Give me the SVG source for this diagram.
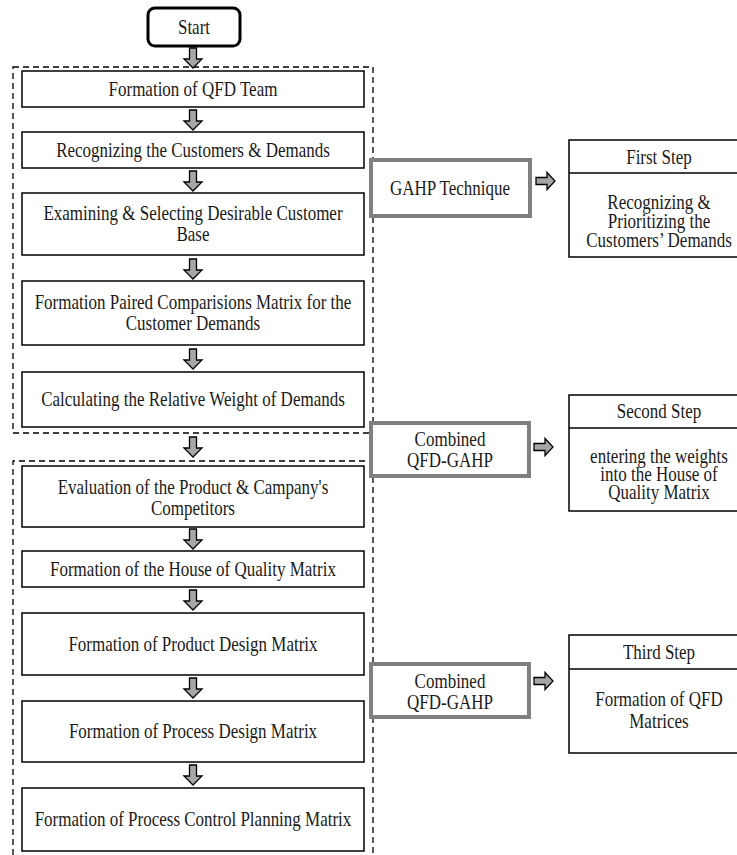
<svg xmlns="http://www.w3.org/2000/svg" xmlns:xlink="http://www.w3.org/1999/xlink" width="737" height="855" viewBox="0 0 737 855">
<style>
.box{fill:#fff;stroke:#000;stroke-width:1.5}
.gbox{fill:#fff;stroke:#808080;stroke-width:4}
.dash{fill:none;stroke:#000;stroke-width:1.3;stroke-dasharray:6 4}
.arr{fill:#a6a6a6;stroke:#000;stroke-width:1.3;stroke-linejoin:miter}
.t{font-family:'Liberation Serif','DejaVu Serif','Times New Roman',serif;font-size:17px;fill:#1a1a1a;text-anchor:middle}
</style>
<defs>
<path id="ad" class="arr" d="M-3.5,0 H3.5 V11 H9 L0,20 L-9,11 H-3.5 Z"/>
<path id="ar" class="arr" d="M0,-3.5 H11 V-8.5 L19,0 L11,8.5 V3.5 H0 Z"/>
</defs>
<rect width="737" height="855" fill="#fff"/>
<g id="groups">
<rect class="dash" x="13" y="67" width="360" height="366"/>
<path class="dash" d="M13,865 V461 H373 V865"/>
</g>
<g class="t">
<g id="start"><rect x="148" y="8" width="92" height="38" rx="7" fill="#fff" stroke="#000" stroke-width="3"/><text x="194" y="34" transform="matrix(1 0 0 1.2 0 -6.8)">Start</text></g>
<g id="n1"><rect class="box" x="22" y="71" width="342" height="36"/><text x="193" y="96" transform="matrix(1 0 0 1.2 0 -19.2)">Formation of QFD Team</text></g>
<g id="n2"><rect class="box" x="22" y="132" width="342" height="36"/><text x="193" y="157" transform="matrix(1 0 0 1.2 0 -31.4)">Recognizing the Customers &amp; Demands</text></g>
<g id="n3"><rect class="box" x="22" y="193" width="342" height="62"/><text x="193" y="220" transform="matrix(1 0 0 1.2 0 -44)">Examining &amp; Selecting Desirable Customer</text><text x="193" y="241" transform="matrix(1 0 0 1.2 0 -48.2)">Base</text></g>
<g id="n4"><rect class="box" x="22" y="281" width="342" height="64"/><text x="193" y="309" transform="matrix(1 0 0 1.2 0 -61.8)">Formation Paired Comparisions Matrix for the</text><text x="193" y="330" transform="matrix(1 0 0 1.2 0 -66)">Customer Demands</text></g>
<g id="n5"><rect class="box" x="22" y="372" width="342" height="55"/><text x="193" y="406" transform="matrix(1 0 0 1.2 0 -81.2)">Calculating the Relative Weight of Demands</text></g>
<g id="n6"><rect class="box" x="22" y="466" width="342" height="61"/><text x="193" y="494" transform="matrix(1 0 0 1.2 0 -98.8)">Evaluation of the Product &amp; Campany's</text><text x="193" y="515" transform="matrix(1 0 0 1.2 0 -103)">Competitors</text></g>
<g id="n7"><rect class="box" x="22" y="551" width="342" height="36"/><text x="193" y="576" transform="matrix(1 0 0 1.2 0 -115.2)">Formation of the House of Quality Matrix</text></g>
<g id="n8"><rect class="box" x="22" y="613" width="342" height="62"/><text x="193" y="651" transform="matrix(1 0 0 1.2 0 -130.2)">Formation of Product Design Matrix</text></g>
<g id="n9"><rect class="box" x="22" y="701" width="342" height="61"/><text x="193" y="738" transform="matrix(1 0 0 1.2 0 -147.6)">Formation of Process Design Matrix</text></g>
<g id="n10"><rect class="box" x="22" y="788" width="342" height="63"/><text x="193" y="826" transform="matrix(1 0 0 1.2 0 -165.2)">Formation of Process Control Planning Matrix</text></g>
<g id="m1"><rect class="gbox" x="371" y="160" width="159" height="56"/><text x="450" y="195" transform="matrix(1 0 0 1.2 0 -39)">GAHP Technique</text></g>
<g id="m2"><rect class="gbox" x="371" y="423" width="158" height="53"/><text x="450" y="446" transform="matrix(1 0 0 1.2 0 -89.2)">Combined</text><text x="450" y="467" transform="matrix(1 0 0 1.2 0 -93.4)">QFD-GAHP</text></g>
<g id="m3"><rect class="gbox" x="371" y="664" width="158" height="53"/><text x="450" y="688" transform="matrix(1 0 0 1.2 0 -137.6)">Combined</text><text x="450" y="709" transform="matrix(1 0 0 1.2 0 -141.8)">QFD-GAHP</text></g>
<g id="s1"><rect class="box" x="569" y="140" width="180" height="117"/><line x1="569" y1="173" x2="749" y2="173" stroke="#000" stroke-width="1.5"/><text x="659" y="164" transform="matrix(1 0 0 1.2 0 -32.8)">First Step</text><text x="659" y="209" transform="matrix(1 0 0 1.2 0 -41.8)">Recognizing &amp;</text><text x="659" y="228" transform="matrix(1 0 0 1.2 0 -45.6)">Prioritizing the</text><text x="659" y="247" transform="matrix(1 0 0 1.2 0 -49.4)">Customers’ Demands</text></g>
<g id="s2"><rect class="box" x="569" y="395" width="180" height="116"/><line x1="569" y1="428" x2="749" y2="428" stroke="#000" stroke-width="1.5"/><text x="659" y="418" transform="matrix(1 0 0 1.2 0 -83.6)">Second Step</text><text x="659" y="463" transform="matrix(1 0 0 1.2 0 -92.6)">entering the weights</text><text x="659" y="481" transform="matrix(1 0 0 1.2 0 -96.2)">into the House of</text><text x="659" y="499" transform="matrix(1 0 0 1.2 0 -99.8)">Quality Matrix</text></g>
<g id="s3"><rect class="box" x="569" y="635" width="180" height="118"/><line x1="569" y1="669" x2="749" y2="669" stroke="#000" stroke-width="1.5"/><text x="659" y="659" transform="matrix(1 0 0 1.2 0 -131.8)">Third Step</text><text x="659" y="706" transform="matrix(1 0 0 1.2 0 -141.2)">Formation of QFD</text><text x="659" y="728" transform="matrix(1 0 0 1.2 0 -145.6)">Matrices</text></g>
</g>
<g id="connectors">
<use xlink:href="#ad" x="193" y="48"/>
<use xlink:href="#ad" x="193" y="110"/>
<use xlink:href="#ad" x="193" y="171"/>
<use xlink:href="#ad" x="193" y="259"/>
<use xlink:href="#ad" x="193" y="349"/>
<use xlink:href="#ad" x="193" y="437"/>
<use xlink:href="#ad" x="193" y="529"/>
<use xlink:href="#ad" x="193" y="590"/>
<use xlink:href="#ad" x="193" y="678"/>
<use xlink:href="#ad" x="193" y="765"/>
<use xlink:href="#ar" x="536" y="181"/>
<use xlink:href="#ar" x="534" y="447"/>
<use xlink:href="#ar" x="534" y="681"/>
</g>
</svg>
